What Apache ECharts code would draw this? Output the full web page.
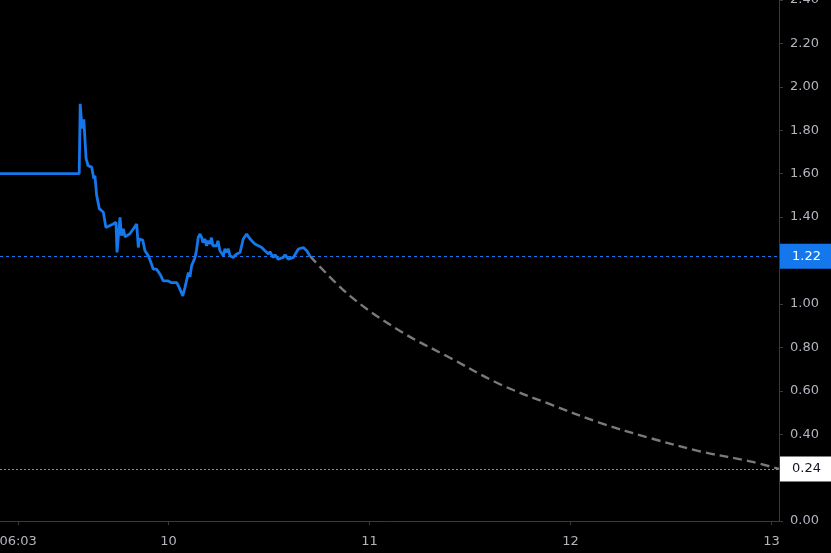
<!DOCTYPE html>
<html>
<head>
<meta charset="utf-8">
<script src="https://cdn.jsdelivr.net/npm/echarts@6/dist/echarts.min.js"></script>
<style>
html,body{margin:0;padding:0;background:#000;}
#chart{width:831px;height:553px;}
</style>
</head>
<body>
<div id="chart"></div>
<script>
// Price history: x = day of month (fractional), y = price
const priceDays = [9.162,9.556,9.561,9.570,9.579,9.590,9.600,9.618,9.629,9.634,9.643,9.656,9.676,9.684,9.689,9.725,9.739,9.744,9.759,9.766,9.775,9.784,9.808,9.842,9.850,9.855,9.872,9.883,9.900,9.916,9.924,9.941,9.958,9.974,9.999,10.016,10.041,10.047,10.057,10.071,10.082,10.099,10.107,10.115,10.132,10.139,10.148,10.157,10.165,10.172,10.182,10.189,10.198,10.206,10.214,10.221,10.240,10.246,10.256,10.273,10.281,10.290,10.298,10.306,10.322,10.339,10.356,10.372,10.389,10.398,10.414,10.430,10.447,10.464,10.480,10.497,10.505,10.521,10.530,10.546,10.571,10.580,10.596,10.621,10.646,10.654,10.671,10.688,10.704];
const priceValues = [1.60,1.60,1.922,1.808,1.850,1.670,1.637,1.630,1.577,1.591,1.499,1.439,1.422,1.430,1.352,1.368,1.376,1.237,1.399,1.314,1.346,1.309,1.323,1.368,1.260,1.299,1.294,1.245,1.222,1.183,1.160,1.160,1.137,1.106,1.106,1.098,1.098,1.088,1.068,1.037,1.075,1.145,1.125,1.176,1.214,1.245,1.306,1.322,1.306,1.282,1.299,1.268,1.291,1.276,1.305,1.268,1.268,1.291,1.245,1.222,1.254,1.237,1.254,1.222,1.214,1.230,1.237,1.299,1.322,1.309,1.291,1.276,1.268,1.260,1.245,1.230,1.240,1.214,1.226,1.206,1.214,1.226,1.206,1.214,1.253,1.245,1.260,1.245,1.22];

// Projected decay (dashed)
const projDays = [10.704,10.903,11.152,11.400,11.649,11.898,12.147,12.396,12.644,12.893,13.037];
const projValues = [1.22,1.037,0.875,0.752,0.630,0.538,0.452,0.382,0.321,0.275,0.24];

// Reference levels
const currentPrice = 1.22;
const targetPrice = 0.24;

// Axis ticks
const xTickValues = [9.2521, 10, 11, 12, 13];
const xTickLabels = ['06:03', '10', '11', '12', '13'];
const xMin = 9.162, xMax = 13.037;
const yMin = 0, yMax = 2.4, yStep = 0.2;

const FONT = 'DejaVu Sans';
const AXIS = '#363a45';
const LABEL = '#b2b5be';
const BLUE = '#1577ec';
const GREY_DOT = '#8c8c8c';

const chart = echarts.init(document.getElementById('chart'));
chart.setOption({
  backgroundColor: '#000000',
  animation: false,
  grid: {left: 0, right: 52, top: 0, bottom: 32, containLabel: false, outerBoundsMode: 'none'},
  xAxis: {
    type: 'value', min: xMin, max: xMax,
    axisLine: {show: true, lineStyle: {color: AXIS, width: 1}},
    axisTick: {show: true, length: 4, lineStyle: {color: AXIS}, customValues: xTickValues},
    axisLabel: {
      color: LABEL, fontFamily: FONT, fontSize: 13, margin: 14,
      customValues: xTickValues,
      formatter: function (v) {
        for (let i = 0; i < xTickValues.length; i++) {
          if (Math.abs(xTickValues[i] - v) < 1e-6) return xTickLabels[i];
        }
        return '';
      }
    },
    splitLine: {show: false}
  },
  yAxis: {
    type: 'value', position: 'right', min: yMin, max: yMax, interval: yStep,
    axisLine: {show: true, lineStyle: {color: AXIS, width: 1}},
    axisTick: {show: true, length: 4, lineStyle: {color: AXIS}},
    axisLabel: {color: LABEL, fontFamily: FONT, fontSize: 13, margin: 11,
      formatter: function (v) { return v.toFixed(2); }},
    splitLine: {show: false}
  },
  series: [
    {
      type: 'line', name: 'projection', z: 3,
      data: projDays.map((d, i) => [d, projValues[i]]),
      smooth: 0.35, showSymbol: false, symbol: 'none',
      lineStyle: {color: '#7a7a7a', width: 2.4, type: [9, 5]},
      markLine: {
        silent: true, symbol: ['none', 'none'],
        lineStyle: {color: GREY_DOT, width: 1, type: [2, 2]},
        label: {
          show: true, position: 'end', distance: 1,
          formatter: targetPrice.toFixed(2),
          color: '#131722', backgroundColor: '#ffffff',
          fontFamily: FONT, fontSize: 13, lineHeight: 15,
          padding: [5, 4, 5, 12], width: 36, align: 'left'
        },
        data: [{yAxis: targetPrice, lineStyle: {color: GREY_DOT, width: 1, type: [2, 2]}}]
      }
    },
    {
      type: 'line', name: 'price', z: 4,
      data: priceDays.map((d, i) => [d, priceValues[i]]),
      showSymbol: false, symbol: 'none',
      lineStyle: {color: BLUE, width: 2.8},
      markLine: {
        silent: true, symbol: ['none', 'none'],
        lineStyle: {color: BLUE, width: 1, type: [3, 3], opacity: 1},
        label: {
          show: true, position: 'end', distance: 1,
          formatter: currentPrice.toFixed(2),
          color: '#ffffff', backgroundColor: BLUE,
          fontFamily: FONT, fontSize: 13, lineHeight: 15,
          padding: [5, 4, 5, 12], width: 36, align: 'left'
        },
        data: [{yAxis: currentPrice, lineStyle: {color: BLUE, width: 1, type: [3, 3], opacity: 1}}]
      }
    }
  ]
});
</script>
</body>
</html>
